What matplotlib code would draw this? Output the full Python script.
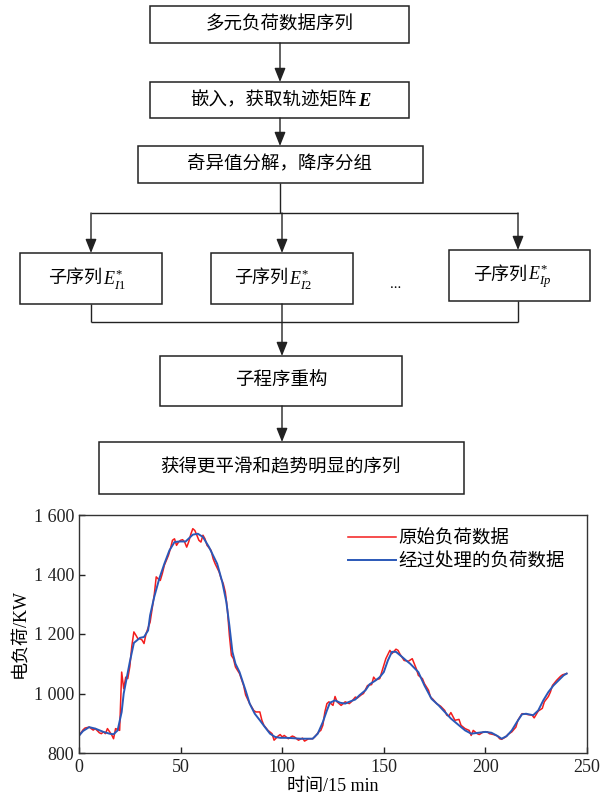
import numpy as np
import matplotlib
matplotlib.use("Agg")
import matplotlib.pyplot as plt
from matplotlib.patches import Rectangle
from matplotlib.ticker import FuncFormatter

plt.rcParams['font.family'] = ['Liberation Serif', 'Noto Sans CJK SC']
plt.rcParams['mathtext.fontset'] = 'custom'
plt.rcParams['mathtext.rm'] = 'Liberation Serif'
plt.rcParams['mathtext.it'] = 'Liberation Serif:italic'

# original load samples (15 min steps)
raw_t = [0, 2, 3, 5, 7, 8, 10, 11, 12, 13, 14, 16, 17, 18, 20, 21, 22, 23, 24, 25,
         26, 27, 28, 29, 30, 31, 32, 33, 35, 36, 37, 38, 39, 40, 41, 42, 44, 45, 46, 47,
         48, 49, 50, 51, 52, 53, 54, 55, 56, 57, 58, 59, 60, 61, 62, 63, 65, 66, 67, 69,
         70, 71, 72, 73, 74, 75, 76, 77, 79, 81, 82, 84, 86, 87, 89, 90, 91, 93, 95, 96,
         98, 99, 100, 101, 103, 105, 106, 108, 110, 111, 113, 115, 116, 118, 119, 120, 121, 122, 123, 125,
         126, 127, 129, 130, 131, 133, 134, 136, 137, 139, 140, 142, 144, 145, 146, 148, 149, 151, 153, 154,
         156, 157, 158, 160, 161, 162, 164, 165, 166, 167, 169, 170, 172, 173, 174, 176, 178, 180, 181, 182,
         183, 185, 187, 188, 190, 192, 193, 194, 196, 197, 199, 201, 202, 204, 206, 207, 208, 210, 211, 213,
         215, 216, 218, 219, 221, 223, 224, 226, 228, 229, 231, 232, 233, 235, 237, 238, 240]
raw_load = [858, 878, 884, 887, 877, 882, 868, 865, 871, 865, 882, 862, 848, 882, 876, 1072, 1016, 1055, 1050, 1090,
            1160, 1207, 1196, 1184, 1184, 1180, 1168, 1201, 1240, 1285, 1330, 1392, 1385, 1380, 1403, 1431, 1464, 1487, 1515, 1520,
            1498, 1509, 1515, 1517, 1509, 1492, 1510, 1535, 1554, 1548, 1532, 1515, 1509, 1532, 1520, 1498, 1481, 1453, 1436, 1408,
            1385, 1369, 1341, 1285, 1196, 1128, 1117, 1089, 1067, 1027, 995, 966, 943, 938, 938, 910, 893, 876, 865, 843,
            857, 862, 854, 859, 848, 857, 854, 843, 850, 840, 848, 848, 854, 871, 876, 893, 938, 966, 972, 960,
            990, 972, 960, 966, 972, 966, 972, 988, 985, 996, 1000, 1027, 1030, 1055, 1046, 1050, 1072, 1117, 1145, 1134,
            1149, 1145, 1132, 1111, 1110, 1108, 1117, 1100, 1083, 1061, 1050, 1033, 1011, 988, 982, 966, 957, 943, 927, 924,
            936, 910, 913, 893, 882, 876, 859, 876, 865, 862, 871, 871, 865, 862, 857, 848, 846, 854, 862, 871,
            887, 910, 932, 932, 929, 927, 918, 941, 950, 972, 990, 1005, 1027, 1044, 1058, 1063, 1067]

# reconstructed (smoothed) load
ssa_t = [0, 2, 5, 8, 12, 15, 17, 19, 21, 22, 25, 27, 30, 32, 34, 35, 37, 39.5, 42, 44.5,
         47, 49.5, 52.5, 56, 58.5, 61, 64, 68, 70.5, 72.5, 74, 75.5, 77, 79, 82, 84, 86.5, 89, 91.5, 94,
         96.5, 99, 102, 105, 109, 112, 115, 117.5, 120, 122, 123.5, 126, 128.5, 131, 133, 136, 138, 141, 143, 146,
         148, 150, 152, 154, 156, 159, 161, 163, 167, 170, 173.5, 177, 180, 183, 187, 190, 193, 196.5, 200, 203,
         205.5, 208, 210.5, 213, 215.5, 218, 220, 223.5, 226, 228.5, 231, 233.5, 236, 238.5, 240]
ssa_load = [858, 874, 887, 882, 871, 865, 863, 876, 938, 1000, 1106, 1170, 1187, 1190, 1212, 1263, 1324, 1386, 1436, 1481,
            1509, 1511, 1511, 1534, 1537, 1526, 1492, 1436, 1375, 1308, 1229, 1140, 1100, 1072, 1010, 966, 932, 910, 887, 865,
            854, 851, 851, 850, 848, 848, 848, 865, 904, 943, 969, 977, 969, 966, 972, 980, 994, 1011, 1031, 1044,
            1055, 1072, 1111, 1140, 1140, 1123, 1111, 1100, 1072, 1027, 982, 960, 938, 916, 893, 876, 865, 868, 871, 868,
            859, 848, 857, 876, 904, 930, 932, 927, 943, 977, 1005, 1027, 1044, 1061, 1067]

W, H = 600, 798
fig = plt.figure(figsize=(W / 100, H / 100), dpi=100)

# ---- flow chart, drawn in pixel units on a full-figure axes ----
fc = fig.add_axes([0, 0, 1, 1])
fc.set_xlim(0, W)
fc.set_ylim(H, 0)
fc.axis('off')

lc = '#222222'


def box(x0, y0, x1, y1):
    fc.add_patch(Rectangle((x0, y0), x1 - x0, y1 - y0, fill=False, ec=lc, lw=1.1))


def arrow(x, y0, y1):
    fc.annotate('', xy=(x, y1), xytext=(x, y0),
                arrowprops=dict(arrowstyle='-|>,head_length=0.7,head_width=0.28',
                                mutation_scale=12, lw=1.0, color=lc,
                                shrinkA=0, shrinkB=0))


def line(xs, ys):
    fc.plot(xs, ys, color=lc, lw=1.0, solid_capstyle='butt')


fs_main = 13.3
box(150, 6, 409, 43)
fc.text(280, 25, '多元负荷数据序列', ha='center', va='center', fontsize=fs_main)
arrow(280, 43, 82)

box(150, 82, 409, 118)
fc.text(357, 101, '嵌入，获取轨迹矩阵', ha='right', va='center', fontsize=fs_main)
fc.text(358, 101, 'E', ha='left', va='center', fontsize=fs_main,
        fontweight='bold', fontstyle='italic', family='Liberation Serif')
arrow(280, 118, 146)

box(138, 146, 423, 183)
fc.text(280, 165, '奇异值分解，降序分组', ha='center', va='center', fontsize=fs_main)

# split into sub-series
line([280, 280], [183, 213])
line([91, 518], [213, 213])
arrow(91, 213, 253)
arrow(282, 213, 253)
arrow(518, 213, 250)

fs_sub = 13
subs = [(20, 253, 162, 304, 102, r'$E^{*}_{I1}$'),
        (211, 253, 353, 304, 288, r'$E^{*}_{I2}$'),
        (449, 250, 590, 301, 527, r'$E^{*}_{Ip}$')]
for x0, y0, x1, y1, xm, lab in subs:
    box(x0, y0, x1, y1)
    yc = (y0 + y1) / 2
    fc.text(xm, yc, '子序列', ha='right', va='center', fontsize=fs_sub)
    fc.text(xm + 1, yc + 1, lab, ha='left', va='center', fontsize=fs_sub)
fc.text(396, 284, '...', ha='center', va='center', fontsize=11)

# merge back
line([91, 91], [304, 322])
line([518, 518], [301, 322])
line([91, 518], [322, 322])
arrow(282, 304, 356)

box(160, 356, 402, 406)
fc.text(281, 381, '子程序重构', ha='center', va='center', fontsize=fs_main)
arrow(282, 406, 442)

box(99, 442, 464, 494)
fc.text(281, 468, '获得更平滑和趋势明显的序列', ha='center', va='center', fontsize=fs_main)

# ---- load curve ----
ax = fig.add_axes([79 / W, (H - 753) / H, 508 / W, 238 / H])
ax.plot(raw_t, raw_load, color='#f41c1c', lw=1.1, label='原始负荷数据')
ax.plot(ssa_t, ssa_load, color='#2a58b8', lw=1.4, label='经过处理的负荷数据')

ax.set_xlim(0, 250)
ax.set_ylim(800, 1600)
ax.set_xticks(np.arange(0, 251, 50))
ax.set_yticks(np.arange(800, 1601, 200))
ax.yaxis.set_major_formatter(FuncFormatter(lambda v, p: f'{v:,.0f}'.replace(',', ' ')))
ax.tick_params(direction='in', length=4, width=1, labelsize=13, colors='#222222',
               top=False, right=False)
ax.tick_params(axis='x', pad=4)
for s in ax.spines.values():
    s.set_color('#333333')
    s.set_linewidth(1.0)

ax.set_xlabel('时间/15 min', fontsize=13, labelpad=2)
ax.set_ylabel('电负荷/KW', fontsize=13, labelpad=4)

ax.legend(loc='upper left', bbox_to_anchor=(348 / W, 1 - 530 / H),
          bbox_transform=fig.transFigure, frameon=False, fontsize=13.3,
          handlelength=2.6, handletextpad=0.15, labelspacing=0.32,
          borderpad=0, borderaxespad=0)

fig.savefig('out.png', dpi=100)
